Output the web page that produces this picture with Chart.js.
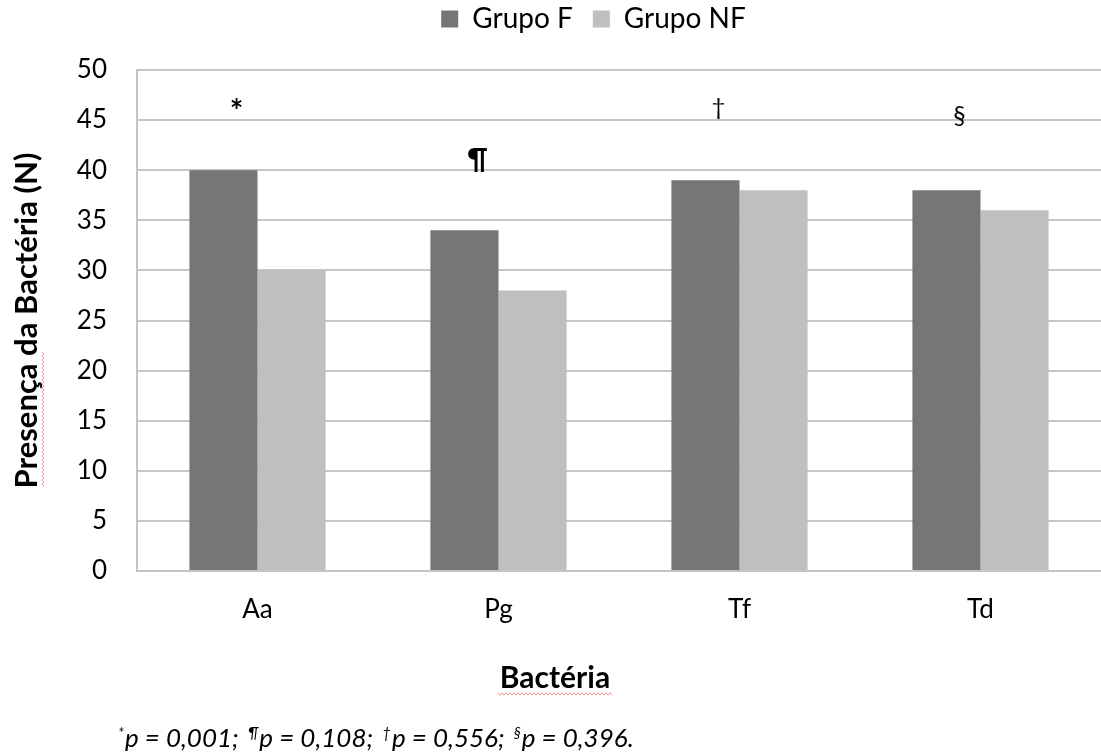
<!doctype html>
<html lang="pt">
<head>
<meta charset="utf-8">
<title>Presença da Bactéria</title>
<script src="https://cdn.jsdelivr.net/npm/chart.js"></script>
<style>
  html, body { margin: 0; padding: 0; background: #fff; }
  #wrap { width: 1101px; height: 754px; }
</style>
</head>
<body>
<div id="wrap"><canvas id="myChart"></canvas></div>
<script>
// dados
var bacterias = ['Aa', 'Pg', 'Tf', 'Td'];
var grupoF = [40, 34, 39, 38];
var grupoNF = [30, 28, 38, 36];
var yTicks = [0, 5, 10, 15, 20, 25, 30, 35, 40, 45, 50];
var marcas = ['*', '¶', '†', '§'];
var marcaNivel = [46.7, 41.0, 46.2, 45.4];
var notaSimbolos = ['*', '¶', '†', '§'];
var notaValores = ['0,001', '0,108', '0,556', '0,396'];
var tituloX = 'Bactéria';
var tituloY = 'Presença da Bactéria (N)';

var fonte = 'Lato, "Open Sans", sans-serif';
var fonteMarca = { '*': 'bold 32px ', '¶': 'bold 28px ', '†': '24px ', '§': '25px ' };

// encaixa a legenda numa faixa fixa no topo e desloca-a para a direita
var legendaAltura = {
  id: 'legendaAltura',
  beforeInit: function(chart) {
    var fitOrig = chart.legend.fit;
    chart.legend.fit = function() {
      fitOrig.bind(chart.legend)();
      this.height = 85;
    };
  },
  afterLayout: function(chart) {
    chart.legend.left += 43;
    chart.legend.right += 43;
  }
};

function onda(ctx, a, b, fixo, vertical) {
  ctx.beginPath();
  ctx.strokeStyle = 'rgba(230,70,70,0.55)';
  ctx.lineWidth = 1;
  var k = 0;
  for (var t = a; t <= b; t += 2) {
    var off = (k++ % 2) ? 1.2 : -1.2;
    if (vertical) ctx.lineTo(fixo + off, t); else ctx.lineTo(t, fixo + off);
  }
  ctx.stroke();
}

// símbolos de significância, título do eixo x e nota de rodapé
var extras = {
  id: 'extras',
  afterDatasetsDraw: function(chart) {
    var ctx = chart.ctx;
    var x = chart.scales.x, y = chart.scales.y;
    ctx.save();
    ctx.fillStyle = '#000';
    ctx.textAlign = 'center';
    ctx.textBaseline = 'alphabetic';
    marcas.forEach(function(m, i) {
      ctx.font = fonteMarca[m] + fonte;
      var px = x.getPixelForValue(i) - 21;
      var py = y.getPixelForValue(marcaNivel[i]);
      var mt = ctx.measureText(m);
      ctx.fillText(m, px, py + (mt.actualBoundingBoxAscent - mt.actualBoundingBoxDescent) / 2);
    });
    ctx.restore();
  },
  afterDraw: function(chart) {
    var ctx = chart.ctx;
    ctx.save();
    ctx.fillStyle = '#000';

    // título do eixo x, centrado na figura
    ctx.font = 'bold 30px ' + fonte;
    ctx.textAlign = 'center';
    ctx.textBaseline = 'alphabetic';
    ctx.fillText(tituloX, 555, 688);
    onda(ctx, 498, 612, 694, false);

    // rodapé
    ctx.textAlign = 'left';
    var px = 118, base = 747;
    notaSimbolos.forEach(function(s, i) {
      ctx.font = 'italic 15px ' + fonte;
      ctx.fillText(s, px, base - 9);
      px += ctx.measureText(s).width + 1;
      var txt = 'p = ' + notaValores[i] + (i < notaSimbolos.length - 1 ? '; ' : '.');
      ctx.font = 'italic 26px ' + fonte;
      ctx.fillText(txt, px, base);
      px += ctx.measureText(txt).width + 3;
    });

    // sublinhado do corretor em "Presença"
    onda(ctx, 352, 486, 43, true);
    ctx.restore();
  }
};

new Chart(document.getElementById('myChart'), {
  type: 'bar',
  data: {
    labels: bacterias,
    datasets: [{
      label: 'Grupo F',
      data: grupoF,
      backgroundColor: '#767676',
      borderWidth: 0
    }, {
      label: 'Grupo NF',
      data: grupoNF,
      backgroundColor: '#bfbfbf',
      borderWidth: 0
    }]
  },
  options: {
    responsive: true,
    maintainAspectRatio: false,
    animation: false,
    layout: { padding: { left: 0, right: 0, top: -15, bottom: 0 } },
    datasets: {
      bar: { categoryPercentage: 0.565, barPercentage: 1.0 }
    },
    plugins: {
      legend: {
        position: 'top',
        align: 'center',
        labels: {
          font: { family: fonte, size: 28 },
          color: '#000',
          boxWidth: 17,
          boxHeight: 17,
          padding: 20
        }
      },
      tooltip: { enabled: false }
    },
    scales: {
      x: {
        grid: { display: false, drawTicks: false },
        border: { display: true, color: '#c4c4c4', width: 2 },
        ticks: {
          font: { family: fonte, size: 26 },
          color: '#000',
          padding: 23
        },
        afterFit: function(scale) { scale.height = 183; }
      },
      y: {
        min: 0,
        max: 50,
        afterBuildTicks: function(scale) {
          scale.ticks = yTicks.map(function(v) { return { value: v }; });
        },
        grid: { color: '#c6c6c6', lineWidth: 2, drawTicks: false },
        border: { display: true, color: '#c4c4c4', width: 2 },
        ticks: {
          font: { family: fonte, size: 26 },
          color: '#000',
          padding: 30
        },
        title: {
          display: true,
          text: tituloY,
          font: { family: fonte, size: 31, weight: 'bold' },
          color: '#000',
          padding: { top: 8, bottom: 0 }
        },
        afterFit: function(scale) { scale.width = 137; }
      }
    }
  },
  plugins: [legendaAltura, extras]
});
</script>
</body>
</html>
